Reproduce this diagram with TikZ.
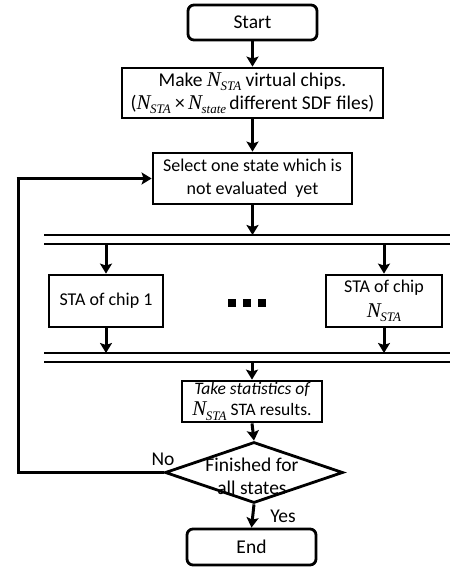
\documentclass[tikz,border=0pt]{standalone}
\usepackage{fontspec}
\setmainfont{Carlito}
\newfontfamily\tms{Liberation Serif}
\usetikzlibrary{arrows.meta,shapes.geometric}
% symbol N with an italic subscript, set in a Times-like face
\newcommand{\Nsub}[1]{{\tms\itshape\fontsize{21}{21}\selectfont N\kern-0.5pt\raisebox{-0.45ex}{\fontsize{13}{13}\selectfont #1}}}
\begin{document}
\begin{tikzpicture}[x=1pt,y=-1pt,
  every node/.style={font=\fontsize{19.5}{23}\selectfont, inner sep=0pt, align=center},
  small/.style={font=\fontsize{18}{23}\selectfont},
  box/.style={draw, line width=2.8pt, rectangle},
  term/.style={box, rounded corners=6pt},
  decision/.style={draw, line width=2.8pt, diamond, aspect=2.9},
  arr/.style={line width=3pt, -{Stealth[length=10pt,width=12pt,inset=2pt]}},
  ln/.style={line width=3pt},
  bar/.style={line width=2.2pt}]
\useasboundingbox (0,0) rectangle (453,568);

\node[term, minimum width=129pt, minimum height=35pt] (start) at (252.5,22.5) {Start};
\node[box, minimum width=261pt, minimum height=50pt] (make) at (252.5,93)
  {Make \Nsub{STA} virtual chips.\\(\Nsub{STA}\ \texttimes\,\Nsub{state}\,different SDF files)};
\node[box, small, minimum width=199pt, minimum height=51pt] (select) at (252.5,178.5)
  {Select one state which is\\not evaluated\ \ yet};

% fork bars
\coordinate (b1l) at (44,235);  \coordinate (b1r) at (450,235);
\coordinate (b2l) at (44,244);  \coordinate (b2r) at (450,244);
\coordinate (b3l) at (44,353);  \coordinate (b3r) at (450,353);
\coordinate (b4l) at (44,362);  \coordinate (b4r) at (450,362);
\draw[bar] (b1l) -- (b1r);
\draw[bar] (b2l) -- (b2r);
\draw[bar] (b3l) -- (b3r);
\draw[bar] (b4l) -- (b4r);

\node[box, small, minimum width=114pt, minimum height=52pt] (sta1) at (106,301) {STA of chip 1};
\node[box, minimum width=116pt, minimum height=52pt, font=\fontsize{18}{25}\selectfont] (stan) at (384,301) {STA of chip\\\Nsub{STA}};
\node (dots) at (247,303) {%
  \tikz[x=1pt,y=1pt]{\foreach \i in {0,15,30}{\fill (\i,0) rectangle ++(8,8);}}};

\node[box, minimum width=140pt, minimum height=41pt, font=\fontsize{17.5}{21}\selectfont] (take) at (252,401.5)
  {\itshape Take statistics of\\\Nsub{STA} STA results.};
\node[decision, minimum width=178pt, minimum height=61pt] (dec) at (254,472.5) {};
\node (dectext) at (252,476) {Finished for\\all states};
\node[term, minimum width=129pt, minimum height=36pt] (end) at (251.5,547) {End};

\node (no) at (163,459) {No};
\node (yes) at (283,516) {Yes};

\coordinate (loopb) at (18,472.5);
\coordinate (loopt) at (18,178.5);

\draw[arr] (start) -- (make);
\draw[arr] (make) -- (select);
\draw[arr] (select.south) -- (select.south |- b1l);
\draw[arr] (sta1.north |- b2l) -- (sta1.north);
\draw[arr] (stan.north |- b2l) -- (stan.north);
\draw[arr] (sta1.south) -- (sta1.south |- b3l);
\draw[arr] (stan.south) -- (stan.south |- b3l);
\draw[arr] (take.north |- b4l) -- (take.north);
\draw[arr] (take.south) -- (dec.north);
\draw[arr] (dec.south) -- (end.north);
\draw[ln] (dec.west) -- (loopb) -- (loopt);
\draw[arr] ([xshift=-1.5pt]loopt) -- (select.west);
\end{tikzpicture}
\end{document}
